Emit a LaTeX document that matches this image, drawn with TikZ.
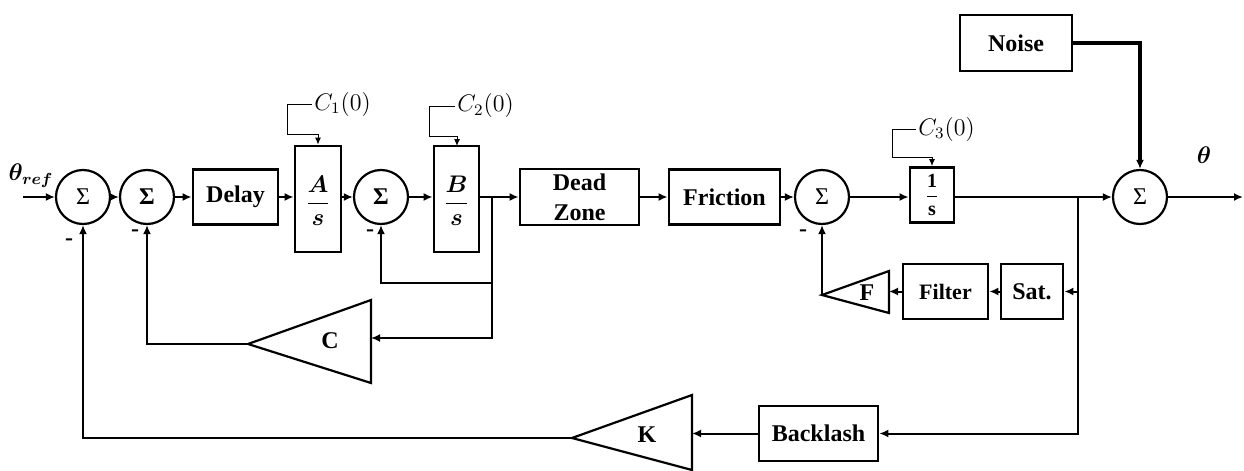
\documentclass[tikz,border=0pt]{standalone}
\usepackage{amsmath}
\usepackage{fontspec}
\setmainfont{Liberation Serif}
\usetikzlibrary{arrows.meta}
\begin{document}
\begin{tikzpicture}[x=0.5pt,y=-0.5pt,
  blk/.style={draw, line width=1.4pt, inner sep=0pt, font=\fontsize{12}{15}\selectfont\bfseries, align=center},
  sumn/.style={draw, circle, line width=1.1pt, minimum size=27pt, inner sep=0pt, font=\fontsize{12}{14}\selectfont},
  ln/.style={line width=1pt},
  ar/.style={line width=1pt, -{Latex[length=4.5pt,width=4pt]}},
  ic/.style={line width=0.5pt, -{Latex[length=3.5pt,width=3pt]}},
  tri/.style={draw, line width=1.1pt, line join=miter},
  sgn/.style={font=\fontsize{12}{12}\selectfont\bfseries, inner sep=0pt},
  lab/.style={font=\fontsize{12}{14}\selectfont\bfseries, inner sep=0pt},
  ict/.style={font=\fontsize{12}{14}\selectfont, inner sep=1pt, anchor=west},
]
\useasboundingbox (0,0) rectangle (1244,471);
% sums
\node[sumn] (s1) at (83,197) {Σ};
\node[sumn, font=\fontsize{12}{14}\selectfont\bfseries] (s2) at (147,197) {Σ};
\node[sumn, font=\fontsize{12}{14}\selectfont\bfseries] (s3) at (381,197) {Σ};
\node[sumn] (s4) at (822,197) {Σ};
\node[sumn] (s5) at (1140,197) {Σ};
% blocks
\node[blk, minimum width=42.5pt, minimum height=27.5pt] (delay) at (235.5,197) {Delay};
\node[blk, minimum width=23pt, minimum height=53pt] (A) at (318,199) {};
\node[font=\fontsize{13}{15}\selectfont, inner sep=0pt] (Atxt) at (318,201) {$\dfrac{\boldsymbol{A}}{\boldsymbol{s}}$};
\node[blk, minimum width=22.5pt, minimum height=53pt] (B) at (456.5,199) {};
\node[font=\fontsize{13}{15}\selectfont, inner sep=0pt] (Btxt) at (456.5,201) {$\dfrac{\boldsymbol{B}}{\boldsymbol{s}}$};
\node[blk, minimum width=59.5pt, minimum height=28pt] (dz) at (579.5,197) {Dead\\Zone};
\node[blk, minimum width=55.5pt, minimum height=27.5pt] (fr) at (724.5,197) {Friction};
\node[blk, minimum width=22pt, minimum height=27.5pt] (one) at (932,195) {};
\node[font=\fontsize{10}{12}\selectfont, inner sep=0pt] (onetxt) at (932,195) {$\dfrac{\mathbf{1}}{\mathbf{s}}$};
\node[blk, minimum width=56pt, minimum height=28pt] (noise) at (1016,43) {Noise};
\node[blk, minimum width=31pt, minimum height=27.5pt] (sat) at (1032,291.5) {Sat.};
\node[blk, minimum width=42.5pt, minimum height=27.5pt, font=\fontsize{11}{13}\selectfont\bfseries] (filt) at (945.5,291.5) {Filter};
\node[blk, minimum width=59.5pt, minimum height=27.5pt] (bl) at (818.5,433.5) {Backlash};
% triangles
\coordinate (Ctip) at (248,344);
\coordinate (Cin) at (371,338);
\draw[tri] (Ctip) -- (371,300) -- (371,383) -- cycle;
\node[lab] (Clab) at (330,341) {C};
\coordinate (Ktip) at (572,438);
\coordinate (Kin) at (692,433.5);
\draw[tri] (Ktip) -- (692,395) -- (692,470) -- cycle;
\node[lab] (Klab) at (647,435) {K};
\coordinate (Ftip) at (822,295);
\coordinate (Fin) at (889,291.5);
\draw[tri] (Ftip) -- (889,271) -- (889,313) -- cycle;
\node[lab] (Flab) at (867,293) {F};
% labels
\node[font=\fontsize{12}{14}\selectfont, inner sep=0pt] (thref) at (31,176) {$\boldsymbol{\theta_{ref}}$};
\node[font=\fontsize{12}{14}\selectfont, inner sep=0pt] (thout) at (1204,155) {$\boldsymbol{\theta}$};
\node[sgn] (m1) at (69,242) {-};
\node[sgn] (m2) at (135,233) {-};
\node[sgn] (m3) at (370,233) {-};
\node[sgn] (m4) at (803,233) {-};
% initial conditions
\node[ict] (ic1) at (312,104) {$C_1(0)$};
\node[ict] (ic2) at (455,106) {$C_2(0)$};
\node[ict] (ic3) at (916,129) {$C_3(0)$};
\draw[ic] (ic1.west) -- (287,104) -- (287,134) -- (318,134) -- (A.north);
\draw[ic] (ic2.west) -- (429,106) -- (429,136) -- (457,136) -- (457,146);
\draw[ic] (ic3.west) -- (892,129) -- (892,157) -- (932,157) -- (one.north);
% forward path
\coordinate (in) at (23,197);
\coordinate (out) at (1243,197);
\coordinate (j1) at (492,197);
\coordinate (j1a) at (492,283);
\coordinate (j1b) at (492,338);
\coordinate (j2) at (1078,197);
\coordinate (j2a) at (1078,291.5);
\coordinate (j2b) at (1078,433.5);
\draw[ar] (in) -- (s1.west);
\draw[ar] (s1) -- (s2);
\draw[ar] (s2) -- (delay);
\draw[ar] (delay.east) -- (delay.east -| A.west);
\draw[ar] (A.east |- s3) -- (s3.west);
\draw[ar] (s3.east) -- (s3.east -| B.west);
\draw[ln] (B.east |- j1) -- (j1);
\draw[ar] (j1) -- (dz.west);
\draw[ar] (dz) -- (fr);
\draw[ar] (fr) -- (s4);
\draw[ar] (s4.east) -- (s4.east -| one.west);
\draw[ln] (one.east |- j2) -- (j2);
\draw[ar] (j2) -- (s5.west);
\draw[ar] (s5) -- (out);
\draw[ar, line width=1.6pt] (noise.east) -| (s5.north);
% feedback loops
\draw[ar] (j1) -- (j1a) -- (s3.south |- j1a) -- (s3.south);
\draw[ar] (j1a) -- (j1b) -- (Cin);
\draw[ar] (Ctip) -- (s2.south |- Ctip) -- (s2.south);
\draw[ar] (Ktip) -- (s1.south |- Ktip) -- (s1.south);
\draw[ar] (j2) -- (j2a) -- (sat.east);
\draw[ar] (j2a) -- (j2b) -- (bl.east);
\draw[ar] (sat) -- (filt);
\draw[ar] (filt.west) -- (Fin);
\draw[ar] (Ftip) -- (s4.south);
\draw[ar] (bl.west) -- (Kin);
\end{tikzpicture}
\end{document}
